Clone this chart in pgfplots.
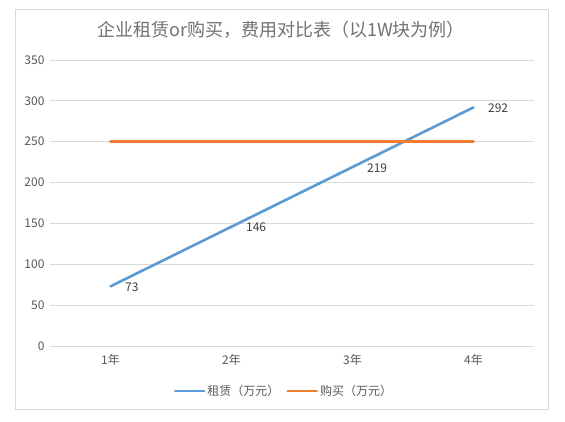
\documentclass[border=0pt]{standalone}
\usepackage{pgfplots}
\pgfplotsset{compat=1.18}
\usepackage{fontspec}
\setmainfont{Noto Sans CJK SC}
\definecolor{rentblue}{HTML}{5B9BD5}
\definecolor{buyorange}{HTML}{ED7D31}
\definecolor{txtgray}{HTML}{595959}
\definecolor{gridgray}{HTML}{D9D9D9}
\begin{document}
\begin{tikzpicture}
\path[use as bounding box, fill=white] (0,0) rectangle (565pt,422pt);
\draw[gridgray, line width=0.8pt] (15pt,13pt) rectangle (548pt,413pt);
\node[text=txtgray!85, font=\fontsize{18}{20}\selectfont] at (281pt,392pt) {企业租赁or购买，费用对比表（以1W块为例）};
\begin{axis}[
  at={(50pt,76pt)}, anchor=south west,
  scale only axis, width=484pt, height=286pt,
  xmin=0.5, xmax=4.5, ymin=0, ymax=350,
  xtick={1,2,3,4}, xticklabels={1年,2年,3年,4年},
  ytick={0,50,100,150,200,250,300,350},
  axis line style={draw=none},
  major tick length=0pt,
  ymajorgrids, grid style={gridgray, line width=0.8pt},
  tick label style={text=txtgray, font=\fontsize{12}{14}\selectfont},
  /pgf/number format/assume math mode=true,
  xticklabel style={yshift=-5pt},
  yticklabel style={xshift=-2pt},
  legend columns=2,
  legend style={at={(0.5,0)}, anchor=center, xshift=-8pt, yshift=-45pt, draw=none, fill=none,
    font=\fontsize{12}{14}\selectfont, text=txtgray,
    /tikz/every even column/.append style={column sep=5pt}},
  legend image code/.code={\draw[#1] (0pt,0pt) -- (29pt,0pt);},
  clip=false,
]
\addplot[rentblue, line width=2.6pt, line cap=round,
  nodes near coords,
  every node near coord/.append style={anchor=west, xshift=10pt, yshift=-1pt, text=black!75, font=\fontsize{12}{14}\selectfont}]
  coordinates {(1,73) (2,146) (3,219) (4,292)};
\addlegendentry{租赁（万元）}
\addplot[buyorange, line width=2.6pt, line cap=round]
  coordinates {(1,250) (2,250) (3,250) (4,250)};
\addlegendentry{购买（万元）}
\end{axis}
\end{tikzpicture}
\end{document}
